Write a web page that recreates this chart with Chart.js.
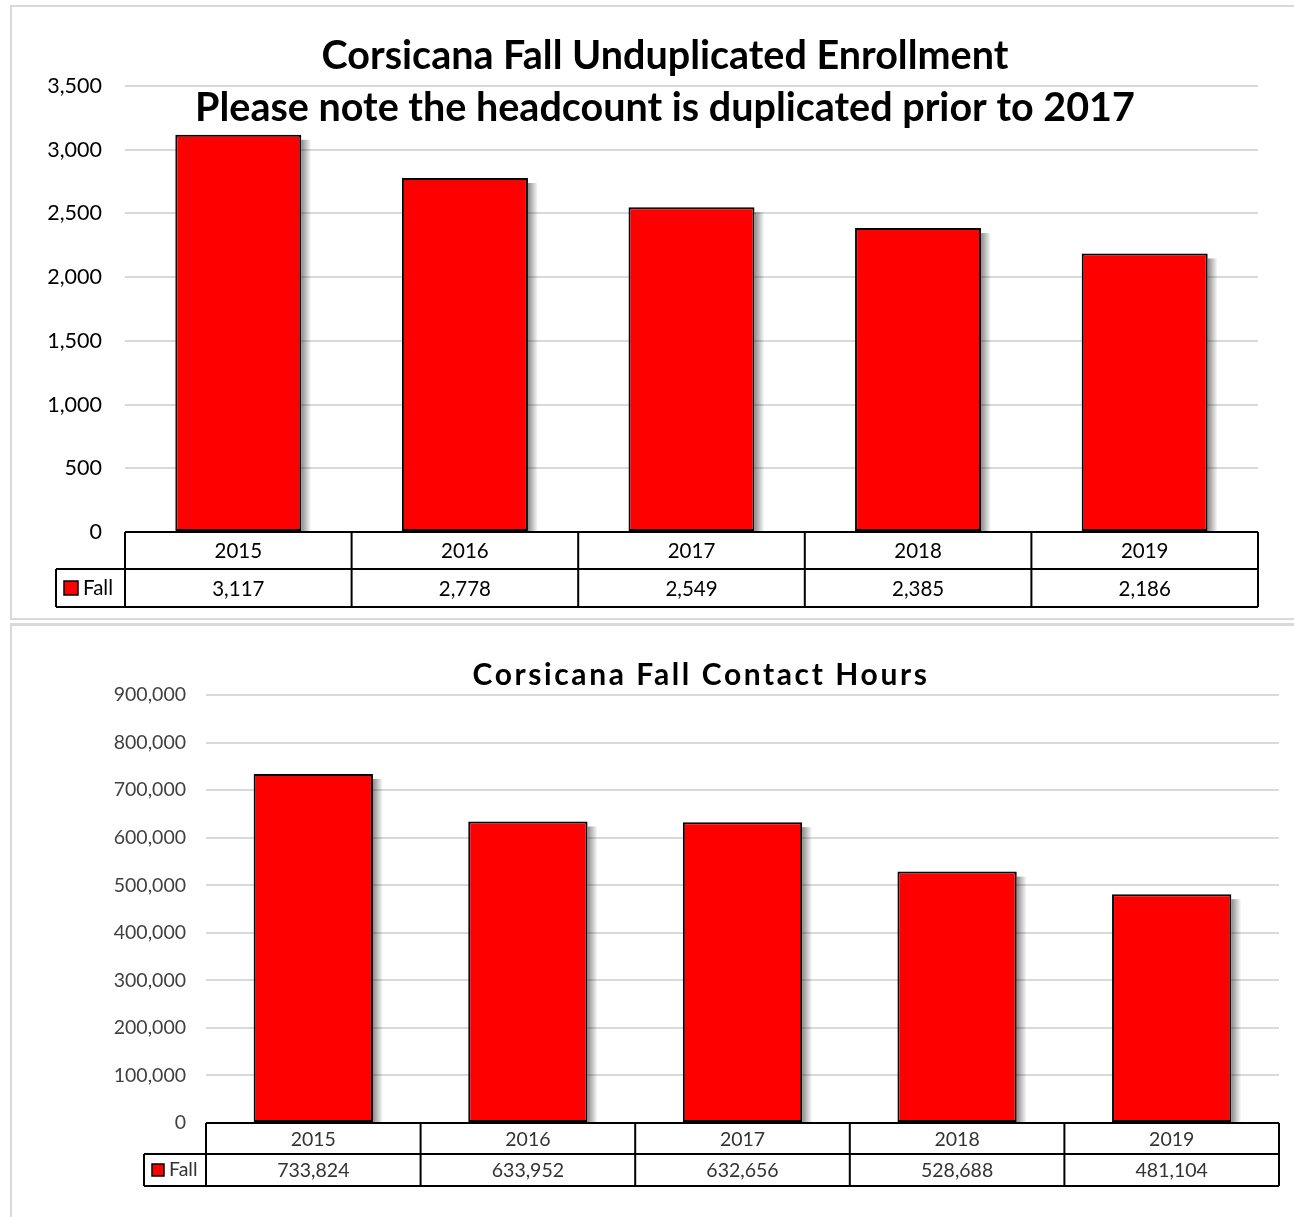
<!DOCTYPE html>
<html>
<head>
<meta charset="utf-8">
<script src="https://cdn.jsdelivr.net/npm/chart.js@4.4.1/dist/chart.umd.min.js"></script>
<style>
  body { margin: 0; background: #fff; width: 1294px; height: 1217px; overflow: hidden; position: relative; }
  .panel { position: absolute; box-sizing: border-box; }
  #p1 { left: 10px; top: 5px; width: 1300px; height: 615px; border: 2px solid #d9d9d9; }
  #p2 { left: 10px; top: 623px; width: 1300px; height: 600px; border-top: 3px solid #d9d9d9; border-left: 2px solid #d9d9d9; }
  canvas { position: absolute; }
  #c1 { left: 10px; top: 5px; }
  #c2 { left: 12px; top: 625px; }
</style>
</head>
<body>
<div class="panel" id="p1"></div>
<div class="panel" id="p2"></div>
<canvas id="c1" width="1284" height="615"></canvas>
<canvas id="c2" width="1282" height="592"></canvas>
<script>
// Data
const years = ['2015', '2016', '2017', '2018', '2019'];
const enrollment = [3117, 2778, 2549, 2385, 2186];
const contactHours = [733824, 633952, 632656, 528688, 481104];
const seriesName = 'Fall';

const FONT = 'Lato, "Open Sans", sans-serif';

/***************/
/*** PLUGINS ***/
/***************/

// Soft shadow on the right side of each bar (Excel style)
const shadowPlugin = {
  id: 'barShadow',
  beforeDatasetsDraw(chart) {
    const ctx = chart.ctx;
    const meta = chart.getDatasetMeta(0);
    ctx.save();
    meta.data.forEach((bar) => {
      const p = bar.getProps(['x', 'y', 'width', 'base'], true);
      const r = p.x + p.width / 2;
      const g = ctx.createLinearGradient(r, 0, r + 10, 0);
      g.addColorStop(0, 'rgba(0,0,0,0.45)');
      g.addColorStop(1, 'rgba(0,0,0,0)');
      ctx.fillStyle = g;
      ctx.fillRect(r, p.y + 5, 10, p.base - p.y - 5);
    });
    ctx.restore();
  }
};

// Data table under the x axis
const tablePlugin = {
  id: 'dataTable',
  afterDraw(chart, args, o) {
    const {ctx, chartArea} = chart;
    const xs = chart.scales.x;
    const labels = chart.data.labels;
    const vals = chart.data.datasets[0].data;
    const half = (xs.getPixelForValue(1) - xs.getPixelForValue(0)) / 2;
    const left = xs.getPixelForValue(0) - half;
    const right = xs.getPixelForValue(labels.length - 1) + half;
    const top = chartArea.bottom, mid = top + o.row1, bot = mid + o.row2;

    ctx.save();
    ctx.fillStyle = '#fff';
    ctx.fillRect(left, top, right - left, bot - top);
    ctx.fillRect(o.legendLeft, mid, left - o.legendLeft, bot - mid);
    ctx.strokeStyle = '#000';
    ctx.lineWidth = 2;
    ctx.beginPath();
    ctx.moveTo(left, top); ctx.lineTo(right, top);
    ctx.moveTo(o.legendLeft, mid); ctx.lineTo(right, mid);
    ctx.moveTo(o.legendLeft, bot); ctx.lineTo(right, bot);
    ctx.moveTo(o.legendLeft, mid); ctx.lineTo(o.legendLeft, bot);
    for (let i = 0; i <= labels.length; i++) {
      const x = left + i * half * 2;
      ctx.moveTo(x, top); ctx.lineTo(x, bot);
    }
    ctx.stroke();

    ctx.fillStyle = o.color;
    ctx.font = o.size + 'px ' + FONT;
    ctx.textAlign = 'center';
    ctx.textBaseline = 'middle';
    labels.forEach((lab, i) => {
      const x = xs.getPixelForValue(i);
      ctx.fillText(lab, x, (top + mid) / 2 + 1);
      ctx.fillText(vals[i].toLocaleString('en-US'), x, (mid + bot) / 2 + 1);
    });

    // legend key
    const ym = (mid + bot) / 2;
    ctx.fillStyle = '#ff0000';
    ctx.fillRect(o.keyX, ym - o.key / 2, o.key, o.key);
    ctx.lineWidth = 1.5;
    ctx.strokeRect(o.keyX, ym - o.key / 2, o.key, o.key);
    ctx.fillStyle = o.color;
    ctx.textAlign = 'left';
    ctx.fillText(chart.data.datasets[0].label, o.keyX + o.key + 5, ym);
    ctx.restore();
  }
};

// Chart titles, drawn over the plot area like in the original
const titlePlugin = {
  id: 'titles',
  afterDraw(chart, args, o) {
    const ctx = chart.ctx;
    ctx.save();
    ctx.fillStyle = '#000';
    ctx.font = 'bold ' + o.size + 'px ' + FONT;
    ctx.letterSpacing = (o.spacing || 0) + 'px';
    ctx.textAlign = 'center';
    ctx.textBaseline = 'middle';
    o.lines.forEach((t, i) => ctx.fillText(t, o.x, o.y + i * o.gap));
    ctx.restore();
  }
};

/****************/
/*** Plotting ***/
/****************/

function makeChart(id, values, cfg) {
  return new Chart(document.getElementById(id), {
    type: 'bar',
    data: {
      labels: years,
      datasets: [{
        label: seriesName,
        data: values,
        backgroundColor: '#ff0000',
        borderColor: '#000',
        borderWidth: 2,
        borderSkipped: false,
        categoryPercentage: 1,
        barPercentage: 0.556
      }]
    },
    options: {
      responsive: false,
      animation: false,
      layout: {padding: cfg.padding},
      plugins: {
        legend: {display: false},
        tooltip: {enabled: false},
        title: {display: false},
        titles: cfg.title,
        dataTable: cfg.table
      },
      scales: {
        x: {
          grid: {display: false, drawTicks: false},
          border: {display: false},
          ticks: {display: false},
          afterFit: (s) => { s.height = cfg.table.row1 + cfg.table.row2; }
        },
        y: {
          min: 0, max: cfg.max,
          ticks: {
            stepSize: cfg.step,
            padding: cfg.tickPad,
            color: cfg.tickColor,
            font: {family: FONT, size: cfg.tickSize},
            callback: (v) => v.toLocaleString('en-US')
          },
          grid: {color: '#d9d9d9', lineWidth: 2, drawTicks: false},
          border: {display: false},
          afterFit: (s) => { s.width = cfg.axisWidth; }
        }
      }
    },
    plugins: [shadowPlugin, tablePlugin, titlePlugin]
  });
}

/************/
/*** INIT ***/
/************/

makeChart('c1', enrollment, {
  padding: {top: 81, right: 36, bottom: 13, left: 0},
  axisWidth: 115, tickPad: 23, tickSize: 21.5, tickColor: '#000',
  max: 3500, step: 500,
  title: {lines: ['Corsicana Fall Unduplicated Enrollment',
                  'Please note the headcount is duplicated prior to 2017'],
          x: 655, y: 51, gap: 52, size: 39.5},
  table: {row1: 37, row2: 38, legendLeft: 46, keyX: 54, key: 14, size: 20.5, color: '#000'}
});

makeChart('c2', contactHours, {
  padding: {top: 70, right: 15, bottom: 31, left: 0},
  axisWidth: 194, tickPad: 20, tickSize: 19.5, tickColor: '#404040',
  max: 900000, step: 100000,
  title: {lines: ['Corsicana Fall Contact Hours'], x: 689, y: 50, gap: 0, size: 30, spacing: 2.6},
  table: {row1: 31, row2: 32, legendLeft: 132, keyX: 140, key: 12, size: 19.5, color: '#333'}
});
</script>
</body>
</html>
